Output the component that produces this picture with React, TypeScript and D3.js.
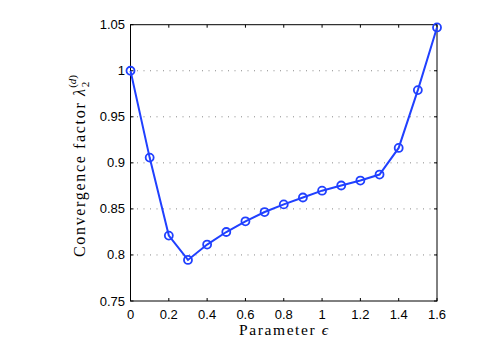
import React from "react";
import * as d3 from "d3";

const epsValues = [0, 0.1, 0.2, 0.3, 0.4, 0.5, 0.6, 0.7, 0.8, 0.9, 1.0, 1.1, 1.2, 1.3, 1.4, 1.5, 1.6];
const lambdaValues = [1.0, 0.9057, 0.821, 0.7946, 0.8113, 0.8249, 0.8365, 0.8466, 0.8549, 0.8624, 0.8698, 0.8754, 0.8808, 0.8873, 0.9162, 0.979, 1.047];
const xTicks = [0, 0.2, 0.4, 0.6, 0.8, 1, 1.2, 1.4, 1.6];
const yTicks = [0.75, 0.8, 0.85, 0.9, 0.95, 1, 1.05];

const W = 482, H = 339;
const L = 130.5, R = 437, T = 24.7, B = 301;

export default function App() {
  const x = d3.scaleLinear().domain([0, 1.6]).range([L, R]);
  const y = d3.scaleLinear().domain([0.75, 1.05]).range([B, T]);
  const data = epsValues.map((e, i) => [e, lambdaValues[i]] as [number, number]);
  const line = d3.line<[number, number]>().x(d => x(d[0])).y(d => y(d[1]))(data) || "";
  const blue = "#2040ff";
  const tickFont = "'Liberation Sans', Arial, sans-serif";
  const labelFont = "'Liberation Serif', 'DejaVu Serif', serif";
  return (
    <svg width={W} height={H} style={{ position: "absolute", left: 0, top: 0, background: "#fff" }}>
      <rect x={0} y={0} width={W} height={H} fill="#fff" />
      {yTicks.filter(t => t > 0.75 && t < 1.05).map(t => (
        <line key={"g" + t} x1={L} x2={R} y1={y(t)} y2={y(t)} stroke="#888" strokeWidth={1} strokeDasharray="1,5.5" />
      ))}
      {xTicks.map(t => (
        <g key={"xt" + t}>
          <line x1={x(t)} x2={x(t)} y1={B} y2={B - 3} stroke="#000" />
          <line x1={x(t)} x2={x(t)} y1={T} y2={T + 3} stroke="#000" />
          <text x={x(t)} y={B + 17.5} textAnchor="middle" fontFamily={tickFont} fontSize={13}>{d3.format("")(t)}</text>
        </g>
      ))}
      {yTicks.map(t => (
        <g key={"yt" + t}>
          <line x1={L} x2={L + 3} y1={y(t)} y2={y(t)} stroke="#000" />
          <line x1={R} x2={R - 3} y1={y(t)} y2={y(t)} stroke="#000" />
          <text x={L - 5.5} y={y(t) + 4.5} textAnchor="end" fontFamily={tickFont} fontSize={13}>{d3.format("")(t)}</text>
        </g>
      ))}
      <rect x={L} y={T} width={R - L} height={B - T} fill="none" stroke="#000" strokeWidth={1} />
      <path d={line} fill="none" stroke={blue} strokeWidth={2} />
      {data.map((d, i) => (
        <circle key={i} cx={x(d[0])} cy={y(d[1])} r={4} fill="none" stroke={blue} strokeWidth={1.8} />
      ))}
      <text x={239} y={334.5} textAnchor="start" fontFamily={labelFont} fontSize={15.5} textLength={89} lengthAdjust="spacing">
        Parameter <tspan fontStyle="italic">ϵ</tspan>
      </text>
      <text transform={`translate(85, 257) rotate(-90)`} textAnchor="start" fontFamily={labelFont} fontSize={16}>
        <tspan textLength={168} lengthAdjust="spacing">Convergence factor <tspan fontStyle="italic">λ</tspan></tspan>
        <tspan fontSize={11} dy={4}>2</tspan>
        <tspan fontSize={11} dx={-6} dy={-13}>(</tspan>
        <tspan fontSize={11} fontStyle="italic">d</tspan>
        <tspan fontSize={11}>)</tspan>
      </text>
    </svg>
  );
}
